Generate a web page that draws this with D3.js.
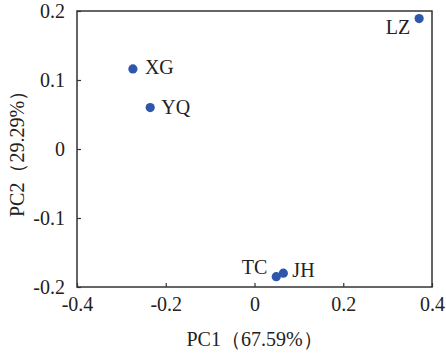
<!DOCTYPE html>
<html>
<head>
<meta charset="utf-8">
<script src="https://cdn.jsdelivr.net/npm/d3@7"></script>
<style>
  body { margin: 0; background: #fff; }
  text { font-family: "Liberation Serif", "Times New Roman", serif; fill: #222; }
</style>
</head>
<body>
<div id="chart"></div>
<script>
const samples = ['LZ', 'XG', 'YQ', 'TC', 'JH'];
const pc1 = [0.371, -0.274, -0.235, 0.049, 0.065];
const pc2 = [0.189, 0.116, 0.060, -0.185, -0.180];
const xTicks = [-0.4, -0.2, 0, 0.2, 0.4];
const yTicks = [-0.2, -0.1, 0, 0.1, 0.2];
const xTitle = 'PC1（67.59%）';
const yTitle = 'PC2（29.29%）';

const W = 446, H = 354;
const margin = { top: 11, right: 14, bottom: 67, left: 77 };
const width = W - margin.left - margin.right;
const height = H - margin.top - margin.bottom;
const FS = 20;

const svg = d3.select('#chart').append('svg').attr('width', W).attr('height', H);
const g = svg.append('g').attr('transform', `translate(${margin.left},${margin.top})`);

const x = d3.scaleLinear().domain([-0.4, 0.4]).range([0, width]);
const y = d3.scaleLinear().domain([-0.2, 0.2]).range([height, 0]);

const fmt = d => d === 0 ? '0' : d3.format('.1f')(d).replace('−', '-');

const xAxis = g.append('g').attr('transform', `translate(0,${height})`)
  .call(d3.axisBottom(x).tickValues(xTicks).tickFormat(fmt).tickSizeInner(-4).tickSizeOuter(0).tickPadding(7));
const yAxis = g.append('g')
  .call(d3.axisLeft(y).tickValues(yTicks).tickFormat(fmt).tickSizeInner(-4).tickSizeOuter(0).tickPadding(12));
[xAxis, yAxis].forEach(a => {
  a.select('.domain').remove();
  a.selectAll('line').attr('stroke', '#333').attr('stroke-width', 1.2);
  a.selectAll('text').attr('font-size', FS).attr('fill', '#222')
    .style('font-family', '"Liberation Serif", serif');
});
xAxis.selectAll('text').attr('dy', '0.85em');

g.append('rect').attr('width', width).attr('height', height)
  .attr('fill', 'none').attr('stroke', '#333').attr('stroke-width', 1.5);

const pts = samples.map((s, i) => ({ name: s, x: pc1[i], y: pc2[i] }));
const labelOff = {
  LZ: { dx: -9, dy: 15, anchor: 'end' },
  XG: { dx: 12, dy: 5, anchor: 'start' },
  YQ: { dx: 11, dy: 6, anchor: 'start' },
  TC: { dx: -9, dy: -3, anchor: 'end' },
  JH: { dx: 9, dy: 4, anchor: 'start' }
};

g.selectAll('.pt').data(pts).enter().append('circle')
  .attr('class', 'pt')
  .attr('cx', d => x(d.x)).attr('cy', d => y(d.y))
  .attr('r', 4.6).attr('fill', '#2e57ab');

g.selectAll('.lbl').data(pts).enter().append('text')
  .attr('class', 'lbl')
  .attr('x', d => x(d.x) + labelOff[d.name].dx)
  .attr('y', d => y(d.y) + labelOff[d.name].dy)
  .attr('text-anchor', d => labelOff[d.name].anchor)
  .attr('font-size', FS)
  .text(d => d.name);

svg.append('text')
  .attr('x', margin.left + x(0)).attr('y', 346)
  .attr('text-anchor', 'middle').attr('font-size', FS)
  .text(xTitle);

svg.append('text')
  .attr('transform', `translate(24,${margin.top + y(0)}) rotate(-90)`)
  .attr('text-anchor', 'middle').attr('font-size', FS)
  .text(yTitle);
</script>
</body>
</html>
